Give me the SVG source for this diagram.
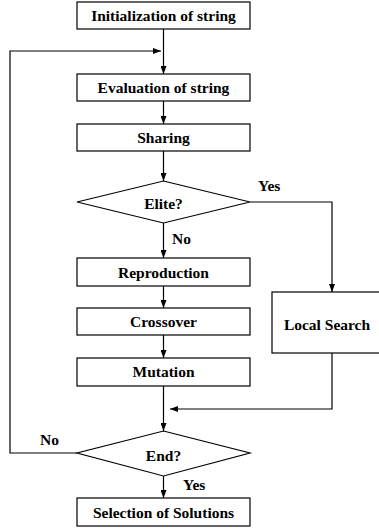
<svg xmlns="http://www.w3.org/2000/svg" width="379" height="531" viewBox="0 0 379 531">
<defs>
<marker id="ah" viewBox="0 0 8 6" refX="8" refY="3" markerWidth="8" markerHeight="6" markerUnits="userSpaceOnUse" orient="auto">
<path d="M0,0 L8,3 L0,6 z" fill="#000"/>
</marker>
</defs>
<style>
.box{fill:#fff;stroke:#000;stroke-width:1.2}
.c{fill:none;stroke:#000;stroke-width:1.2}
</style>
<rect width="379" height="531" fill="#fff"/>
<g font-family="Liberation Serif, Times New Roman, serif" font-weight="bold" font-size="15.5" fill="#000">
<g id="connectors">
<path class="c" d="M163.5,29 V74" marker-end="url(#ah)"/>
<path class="c" d="M77,453 H10 V51 H161" marker-end="url(#ah)"/>
<path class="c" d="M163.5,101 V124" marker-end="url(#ah)"/>
<path class="c" d="M163.5,151 V181" marker-end="url(#ah)"/>
<path class="c" d="M163.5,223 V258" marker-end="url(#ah)"/>
<path class="c" d="M250,202 H332 V292" marker-end="url(#ah)"/>
<path class="c" d="M163.5,286 V308" marker-end="url(#ah)"/>
<path class="c" d="M163.5,335 V358" marker-end="url(#ah)"/>
<path class="c" d="M163.5,386 V431" marker-end="url(#ah)"/>
<path class="c" d="M332,353 V409 H170" marker-end="url(#ah)"/>
<path class="c" d="M163.5,476 V498" marker-end="url(#ah)"/>
<text x="258" y="191">Yes</text>
<text x="172" y="244">No</text>
<text x="40" y="445">No</text>
<text x="183" y="490">Yes</text>
</g>
<g id="init" text-anchor="middle"><rect class="box" x="77" y="2" width="173" height="27"/><text x="163.5" y="21">Initialization of string</text></g>
<g id="eval" text-anchor="middle"><rect class="box" x="77" y="74" width="173" height="27"/><text x="163.5" y="93">Evaluation of string</text></g>
<g id="sharing" text-anchor="middle"><rect class="box" x="77" y="124" width="173" height="27"/><text x="163.5" y="143">Sharing</text></g>
<g id="elite" text-anchor="middle"><polygon class="box" points="163.5,181 250,202 163.5,223 77,202"/><text x="163.5" y="208.5">Elite?</text></g>
<g id="repro" text-anchor="middle"><rect class="box" x="77" y="258" width="173" height="28"/><text x="163.5" y="278">Reproduction</text></g>
<g id="cross" text-anchor="middle"><rect class="box" x="77" y="308" width="173" height="27"/><text x="163.5" y="327">Crossover</text></g>
<g id="mut" text-anchor="middle"><rect class="box" x="77" y="358" width="173" height="28"/><text x="163.5" y="377">Mutation</text></g>
<g id="local" text-anchor="middle"><rect class="box" x="272" y="292" width="110" height="61"/><text x="327" y="330">Local Search</text></g>
<g id="end" text-anchor="middle"><polygon class="box" points="163.5,431 250,453 163.5,476 77,453"/><text x="163.5" y="461">End?</text></g>
<g id="select" text-anchor="middle"><rect class="box" x="77" y="498" width="173" height="28"/><text x="163.5" y="518">Selection of Solutions</text></g>
</g>
</svg>
